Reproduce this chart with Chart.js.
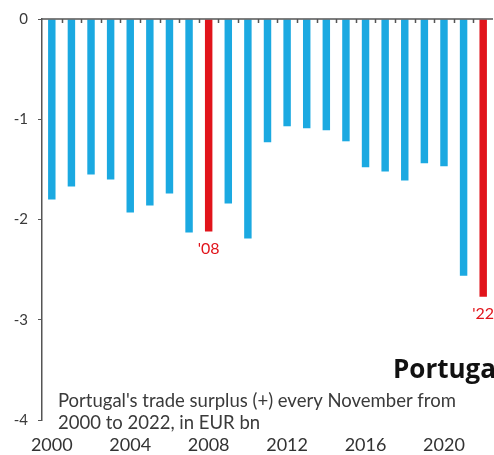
<!DOCTYPE html>
<html>
<head>
<meta charset="utf-8">
<script src="https://cdn.jsdelivr.net/npm/chart.js@4"></script>
<style>
  html, body { margin: 0; padding: 0; background: #fff; }
  #wrap { width: 494px; height: 455px; }
</style>
</head>
<body>
<div id="wrap"><canvas id="myChart" width="494" height="455"></canvas></div>
<script>
// November trade balance, EUR bn
const years = [2000, 2001, 2002, 2003, 2004, 2005, 2006, 2007, 2008, 2009, 2010, 2011,
    2012, 2013, 2014, 2015, 2016, 2017, 2018, 2019, 2020, 2021, 2022];
const surplus = [-1.80, -1.67, -1.55, -1.60, -1.93, -1.86, -1.74, -2.13, -2.12, -1.84, -2.19, -1.23,
    -1.07, -1.09, -1.11, -1.22, -1.48, -1.52, -1.61, -1.44, -1.47, -2.56, -2.77];
const highlightYears = [2008, 2022];
const highlightLabels = ["'08", "'22"];
const yTicks = [0, -1, -2, -3, -4];

const BLUE = '#1BA9E1';
const RED = '#E1141B';
const FONT = 'Lato, "Liberation Sans", sans-serif';

const barColors = years.map(y => highlightYears.includes(y) ? RED : BLUE);

// zero line with small ticks between the bars
const zeroAxis = {
    id: 'zeroAxis',
    afterDatasetsDraw(chart) {
        const ctx = chart.ctx;
        const xs = chart.scales.x;
        const y0 = chart.scales.y.getPixelForValue(0);
        const step = xs.getPixelForValue(1) - xs.getPixelForValue(0);
        ctx.save();
        ctx.strokeStyle = '#555';
        ctx.lineWidth = 1.5;
        ctx.beginPath();
        ctx.moveTo(chart.chartArea.left, y0);
        ctx.lineTo(chart.chartArea.right, y0);
        for (let i = 0; i < years.length - 1; i++) {
            const x = Math.round(xs.getPixelForValue(i) + step / 2) + 0.5;
            ctx.moveTo(x, y0);
            ctx.lineTo(x, y0 + 4);
        }
        ctx.stroke();
        ctx.restore();
    }
};

// red year tags under the highlighted bars
const barTags = {
    id: 'barTags',
    afterDatasetsDraw(chart) {
        const ctx = chart.ctx;
        const meta = chart.getDatasetMeta(0);
        ctx.save();
        ctx.fillStyle = RED;
        ctx.font = '16px ' + FONT;
        ctx.textAlign = 'center';
        ctx.textBaseline = 'top';
        highlightYears.forEach((yr, k) => {
            const bar = meta.data[years.indexOf(yr)];
            ctx.fillText(highlightLabels[k], bar.x, bar.y + 9);
        });
        ctx.restore();
    }
};

// title and note inside the plot
const captions = {
    id: 'captions',
    afterDraw(chart) {
        const ctx = chart.ctx;
        const area = chart.chartArea;
        ctx.save();
        ctx.fillStyle = '#111';
        ctx.font = 'bold 26px "Open Sans", ' + FONT;
        ctx.textBaseline = 'alphabetic';
        ctx.fillText('Portugal', 393, 378);
        ctx.fillStyle = '#3a3a3a';
        ctx.font = '18.5px ' + FONT;
        ctx.fillText("Portugal's trade surplus (+) every November from", area.left + 16, 407);
        ctx.fillText('2000 to 2022, in EUR bn', area.left + 16, 429);
        ctx.restore();
    }
};

function drawChart() {
    const ctx = document.getElementById('myChart').getContext('2d');
    new Chart(ctx, {
        type: 'bar',
        data: {
            labels: years,
            datasets: [{
                data: surplus,
                backgroundColor: barColors,
                barPercentage: 0.38,
                categoryPercentage: 1.0,
                borderWidth: 0
            }]
        },
        options: {
            responsive: false,
            animation: false,
            layout: {
                padding: { top: 18, right: 1, left: 0, bottom: 0 }
            },
            scales: {
                x: {
                    position: 'bottom',
                    offset: true,
                    grid: { display: false },
                    border: { display: false },
                    ticks: {
                        autoSkip: false,
                        maxRotation: 0,
                        padding: 6,
                        color: '#333',
                        font: { family: FONT, size: 18 },
                        callback: function (v, i) {
                            return years[i] % 4 === 0 ? String(years[i]) : '';
                        }
                    },
                    afterFit(scale) { scale.height = 35; }
                },
                y: {
                    min: -4,
                    max: 0,
                    afterBuildTicks(scale) {
                        scale.ticks = yTicks.map(v => ({ value: v }));
                    },
                    grid: {
                        drawOnChartArea: false,
                        drawTicks: true,
                        tickLength: 4,
                        color: '#555'
                    },
                    border: { display: true, color: '#555', width: 1.5 },
                    ticks: {
                        padding: 10,
                        color: '#3a3a3a',
                        font: { family: FONT, size: 15 }
                    },
                    afterFit(scale) { scale.width = 42; }
                }
            },
            plugins: {
                legend: { display: false },
                tooltip: { enabled: false }
            }
        },
        plugins: [zeroAxis, barTags, captions]
    });
}

drawChart();
</script>
</body>
</html>
